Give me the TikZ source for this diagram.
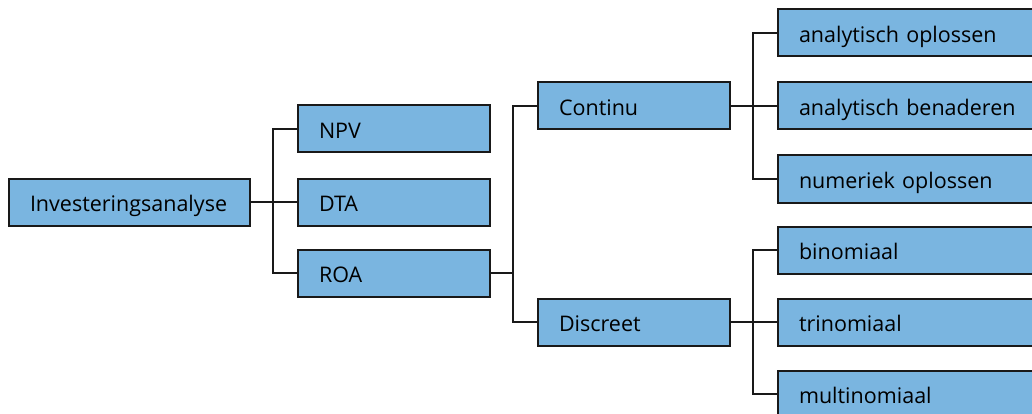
\documentclass[tikz,border=0pt]{standalone}
\usepackage{fontspec}
\setmainfont{Open Sans}
\definecolor{boxblue}{RGB}{122,181,224}
\definecolor{edge}{RGB}{25,25,25}
\begin{document}
\begin{tikzpicture}[x=1pt,y=-1pt,
  item/.style={draw=edge, line width=2pt, fill=boxblue, rectangle,
    minimum height=47pt, inner xsep=21pt, inner ysep=0pt, anchor=west,
    text height=22pt, text depth=2.6pt,
    align=left, font=\fontsize{21.5}{24}\selectfont, text=black},
  wide/.style={item, text width=#1-42pt},
  link/.style={draw=edge, line width=2pt}]
\useasboundingbox (0,0) rectangle (1032,414);
\clip (0,0) rectangle (1032,414);
% root
\node[wide=241pt] (inv) at (8,202) {Investeringsanalyse};
% first level
\node[wide=192pt] (npv) at (297,129) {NPV};
\node[wide=192pt] (dta) at (297,202) {DTA};
\node[wide=192pt] (roa) at (297,273) {ROA};
% real options
\node[wide=192pt] (con) at (537,106) {Continu};
\node[wide=192pt] (dis) at (537,322) {Discreet};
% methods
\node[wide=270pt] (a1) at (777,33) {analytisch oplossen};
\node[wide=270pt] (a2) at (777,106) {analytisch benaderen};
\node[wide=270pt] (a3) at (777,179) {numeriek oplossen};
\node[wide=270pt] (b1) at (777,250) {binomiaal};
\node[wide=270pt] (b2) at (777,322) {trinomiaal};
\node[wide=270pt] (b3) at (777,394) {multinomiaal};
% junctions
\coordinate (j1) at (273,202);
\coordinate (j2) at (513,273);
\coordinate (j3) at (753,106);
\coordinate (j4) at (753,322);
% connectors
\draw[link] (inv.east) -- (dta.west);
\draw[link] (npv.west) -| (j1) |- (roa.west);
\draw[link] (roa.east) -- (j2);
\draw[link] (con.west) -| (j2) |- (dis.west);
\draw[link] (con.east) -- (a2.west);
\draw[link] (a1.west) -| (j3) |- (a3.west);
\draw[link] (dis.east) -- (b2.west);
\draw[link] (b1.west) -| (j4) |- (b3.west);
\end{tikzpicture}
\end{document}
